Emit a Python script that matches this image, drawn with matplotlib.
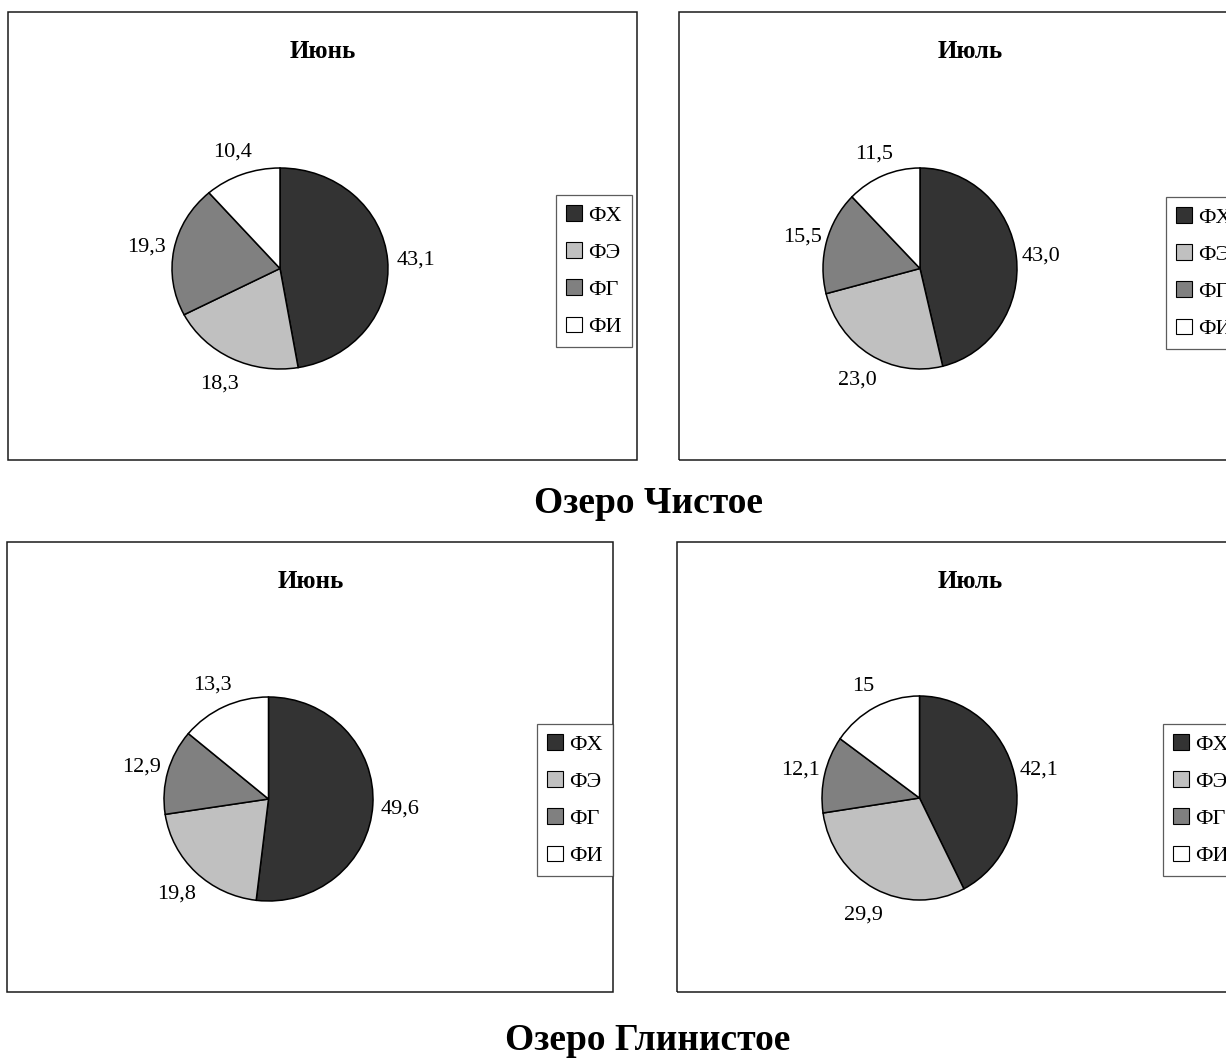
import matplotlib
matplotlib.use("Agg")
import matplotlib.pyplot as plt
from matplotlib.patches import Patch, Rectangle

plt.rcParams['font.family'] = ['Liberation Serif', 'DejaVu Serif']

W, H = 1226, 1061

groups = ["ФХ", "ФЭ", "ФГ", "ФИ"]
colors = ["#333333", "#c0c0c0", "#808080", "#ffffff"]

# подписи долей в том виде, как они даны в таблице (%)
chistoe_june = ["43,1", "18,3", "19,3", "10,4"]
chistoe_july = ["43,0", "23,0", "15,5", "11,5"]
glinistoe_june = ["49,6", "19,8", "12,9", "13,3"]
glinistoe_july = ["42,1", "29,9", "12,1", "15"]

months = ["Июнь", "Июль"]
lakes = ["Озеро Чистое", "Озеро Глинистое"]


def fx(x):
    return x / W


def fy(y):
    return 1 - y / H


def frame(x0, y0, x1, y1):
    fig.add_artist(Rectangle((fx(x0), fy(y1)), fx(x1) - fx(x0), fy(y0) - fy(y1),
                             transform=fig.transFigure, fill=False,
                             ec="#1a1a1a", lw=1.1, zorder=0))


def pie_panel(labels, cx, cy, rx, ry, leg_x, leg_y):
    vals = [float(s.replace(",", ".")) for s in labels]
    k = 1.6
    w, h = 2 * rx * k, 2 * ry * k
    ax = fig.add_axes([fx(cx - w / 2), fy(cy + h / 2), w / W, h / H])
    ax.pie(vals, labels=labels, colors=colors, startangle=90, counterclock=False,
           radius=1, labeldistance=1.26,
           wedgeprops=dict(edgecolor="black", linewidth=1.1),
           textprops=dict(fontsize=16, ha="center", va="center_baseline"))
    ax.set_xlim(-k, k)
    ax.set_ylim(-k, k)
    ax.set_aspect("auto")
    ax.axis("off")

    handles = [Patch(facecolor=c, edgecolor="black", lw=0.8) for c in colors]
    leg = ax.legend(handles, groups, loc="upper left",
                    bbox_to_anchor=(fx(leg_x), fy(leg_y)),
                    bbox_transform=fig.transFigure, borderaxespad=0,
                    fontsize=16, frameon=True, fancybox=False, shadow=False,
                    handlelength=0.7, handleheight=0.7, handletextpad=0.3,
                    labelspacing=0.75, borderpad=0.45)
    leg.get_frame().set_edgecolor("#333333")
    leg.get_frame().set_linewidth(0.9)
    return ax


fig = plt.figure(figsize=(W / 100, H / 100), dpi=100)

# рамки диаграмм
frame(8, 12, 637, 460)
frame(679, 12, 1262, 460)
frame(7, 542, 613, 992)
frame(677, 542, 1263, 992)

# заголовки месяцев
title_kw = dict(ha="center", va="center", fontsize=18, fontweight="bold")
fig.text(fx(323), fy(52), months[0], **title_kw)
fig.text(fx(970), fy(52), months[1], **title_kw)
fig.text(fx(311), fy(582), months[0], **title_kw)
fig.text(fx(970), fy(582), months[1], **title_kw)

pie_panel(chistoe_june, 280, 268.5, 108, 100.5, 556, 195)
pie_panel(chistoe_july, 920, 268.5, 97, 100.5, 1166, 197)
pie_panel(glinistoe_june, 268.5, 799, 104.5, 102, 537, 724)
pie_panel(glinistoe_july, 919.5, 798, 97.5, 102, 1163, 724)

# подписи озёр
fig.text(fx(648), fy(503), lakes[0], ha="center", va="center", fontsize=27, fontweight="bold")
fig.text(fx(648), fy(1041), lakes[1], ha="center", va="center", fontsize=27, fontweight="bold")

fig.savefig("out.png", dpi=100, facecolor="white")
